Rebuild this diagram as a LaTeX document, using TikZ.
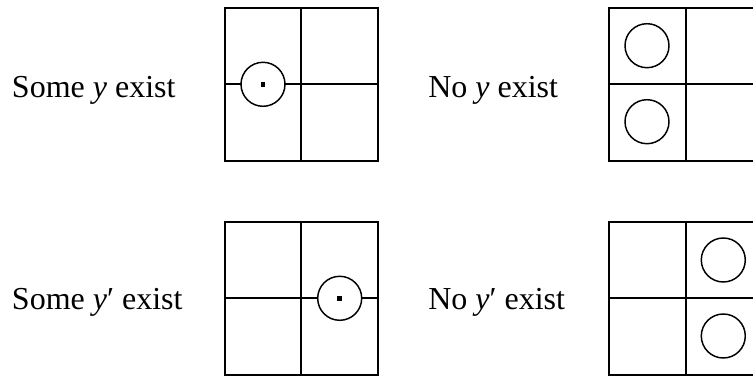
\documentclass[tikz,border=0pt]{standalone}
\usepackage{fontspec}
\setmainfont{Liberation Serif}
\usetikzlibrary{positioning}

\begin{document}
\begin{tikzpicture}[x=0.75pt,y=-0.75pt,
  cell/.style={line width=1.5pt},
  ring/.style={draw, circle, fill=white, line width=1.1pt, minimum size=33pt, inner sep=0pt},
  spot/.style={fill=black, rectangle, minimum size=3.5pt, inner sep=0pt},
  caption/.style={anchor=base west, inner sep=0pt, font=\fontsize{24}{28}\selectfont}
]
\useasboundingbox (0,0) rectangle (753,377);
\clip (0,0) rectangle (753,377);
% the four boxes with their dividers
\foreach \x in {224.7, 609}
  \foreach \y in {8, 222}{
    \draw[cell] (\x,\y) rectangle ++(153.3,152.7);
    \draw[cell] (\x+76.6,\y) -- ++(0,152.7);
    \draw[cell] (\x,\y+76.3) -- ++(153.3,0);
  }
% labels
\node[caption] (someY)  at (11.7,97.7)  {Some \textit{y} exist};
\node[caption] (noY)    at (428,97.7)   {No \textit{y} exist};
\node[caption] (someYp) at (11.7,309.5) {Some \textit{y}\char"2032{} exist};
\node[caption] (noYp)   at (428,309.5)  {No \textit{y}\char"2032{} exist};
% circles
\node[ring] (c1) at (263,84.3) {};
\node[spot] at (c1) {};
\node[ring] (c2) at (339.7,298.3) {};
\node[spot] at (c2) {};
\node[ring] (n1) at (647,45.7) {};
\node[ring] (n2) at (647,121.7) {};
\node[ring] (n3) at (723.3,260) {};
\node[ring] (n4) at (723.3,336) {};
\end{tikzpicture}
\end{document}
